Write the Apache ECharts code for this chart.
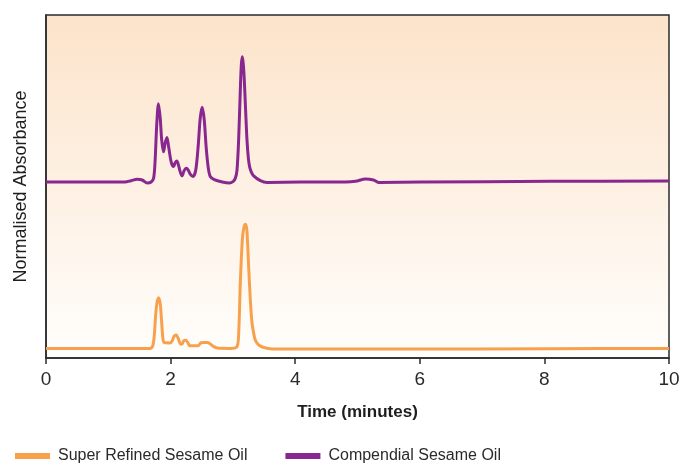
<!DOCTYPE html>
<html>
<head>
<meta charset="utf-8">
<script src="https://cdn.jsdelivr.net/npm/echarts@6/dist/echarts.min.js"></script>
<style>
  html, body { margin: 0; padding: 0; background: #ffffff; }
  #chart { width: 681px; height: 464px; }
</style>
</head>
<body>
<div id="chart"></div>
<script>
// Axis ticks (minutes)
const timeTicks = [0, 2, 4, 6, 8, 10];

const seriesNames = ['Super Refined Sesame Oil', 'Compendial Sesame Oil'];

// Super Refined Sesame Oil trace: retention time (min) and normalised absorbance
const refinedTime = [0, 1.672, 1.712, 1.736, 1.760, 1.780, 1.805, 1.833, 1.854, 1.876, 1.897,
  1.994, 2.026, 2.058, 2.090, 2.122, 2.154, 2.182, 2.211, 2.243, 2.275, 2.307, 2.363, 2.444,
  2.484, 2.524, 2.588, 2.637, 2.685, 2.749, 2.958, 3.066, 3.095, 3.119, 3.151, 3.175, 3.199,
  3.224, 3.253, 3.280, 3.307, 3.336, 3.360, 3.408, 3.473, 3.569, 3.682, 5.691, 8.103, 10];
const refinedAbs = [2.8, 2.8, 3.5, 6.1, 12.5, 16.0, 17.6, 15.9, 11.1, 5.8, 4.5,
  4.4, 5.0, 6.4, 6.7, 5.7, 4.2, 4.0, 5.0, 5.2, 4.5, 3.6, 3.6, 3.6,
  4.4, 4.5, 4.5, 4.1, 3.4, 2.9, 2.8, 3.3, 8.2, 21.9, 34.4, 37.9, 39.0,
  37.3, 26.6, 16.9, 10.2, 7.0, 5.2, 3.9, 3.2, 2.8, 2.6, 2.6, 2.7, 2.8];

// Compendial Sesame Oil trace (offset upward)
const compendialTime = [0, 0.868, 1.27, 1.367, 1.463, 1.543, 1.624, 1.688, 1.728, 1.752, 1.777,
  1.805, 1.833, 1.857, 1.886, 1.913, 1.941, 1.969, 2.010, 2.047, 2.074, 2.101, 2.130, 2.146,
  2.182, 2.219, 2.251, 2.283, 2.315, 2.359, 2.404, 2.444, 2.476, 2.508, 2.540, 2.572, 2.605,
  2.637, 2.701, 2.830, 2.942, 3.006, 3.039, 3.066, 3.092, 3.119, 3.135, 3.151, 3.167, 3.183,
  3.204, 3.226, 3.248, 3.268, 3.296, 3.333, 3.441, 3.548, 4.084, 4.807, 4.968, 5.129, 5.257,
  5.338, 6.013, 8.103, 10];
const compendialAbs = [51.3, 51.3, 51.3, 51.7, 52.1, 51.9, 51.0, 51.3, 52.5, 57.7, 67.9,
  74.1, 70.0, 63.6, 60.1, 62.7, 64.3, 61.5, 57.1, 55.8, 56.9, 57.4, 56.0, 54.8,
  53.1, 54.7, 55.3, 54.8, 53.6, 52.9, 54.8, 62.1, 70.0, 73.1, 69.4, 61.2, 55.4,
  52.9, 52.0, 51.3, 51.0, 51.5, 52.4, 54.8, 63.6, 78.1, 85.4, 87.8, 85.7, 81.0,
  72.3, 63.6, 58.3, 55.8, 54.2, 53.1, 51.7, 51.2, 51.3, 51.3, 51.5, 52.2, 51.9,
  51.2, 51.3, 51.5, 51.6];

const zip = (xs, ys) => xs.map((x, i) => [x, ys[i]]);

const FONT = "'Liberation Sans', Arial, sans-serif";
const ORANGE = '#f8a14d';
const PURPLE = '#87278f';

const chart = echarts.init(document.getElementById('chart'), null, { renderer: 'canvas' });

chart.setOption({
  animation: false,
  textStyle: { fontFamily: FONT },
  grid: {
    left: 46, right: 12, top: 15, bottom: 106,
    containLabel: false,
    outerBoundsMode: 'none',
    show: true,
    borderColor: '#2b2b2b',
    borderWidth: 1.5,
    backgroundColor: new echarts.graphic.LinearGradient(0, 0, 0, 1, [
      { offset: 0, color: '#fce3ca' },
      { offset: 1, color: '#fffefc' }
    ])
  },
  legend: {
    left: 10, top: 443,
    icon: 'rect',
    itemWidth: 35, itemHeight: 6,
    itemGap: 38,
    data: seriesNames,
    textStyle: { fontFamily: FONT, fontSize: 16, color: '#2a2a2a', padding: [0, 0, 0, 3] }
  },
  xAxis: {
    type: 'value',
    min: timeTicks[0], max: timeTicks[timeTicks.length - 1], interval: 2,
    name: 'Time (minutes)',
    nameLocation: 'middle',
    nameGap: 46,
    nameTextStyle: { fontFamily: FONT, fontSize: 17, fontWeight: 'bold', color: '#1e1e1e' },
    axisLine: { show: true, lineStyle: { color: '#2b2b2b', width: 1.5 } },
    axisTick: { show: true, inside: false, length: 6, lineStyle: { color: '#2b2b2b', width: 1.5 } },
    axisLabel: { fontFamily: FONT, fontSize: 19, color: '#2a2a2a', margin: 12 },
    splitLine: { show: false }
  },
  yAxis: {
    type: 'value',
    min: 0, max: 100,
    name: 'Normalised Absorbance',
    nameLocation: 'middle',
    nameRotate: 90,
    nameGap: 16,
    nameTextStyle: { fontFamily: FONT, fontSize: 18, color: '#1e1e1e' },
    axisLine: { show: true, lineStyle: { color: '#2b2b2b', width: 1.5 } },
    axisTick: { show: false },
    axisLabel: { show: false },
    splitLine: { show: false }
  },
  series: [
    {
      name: seriesNames[0],
      type: 'line',
      color: ORANGE,
      data: zip(refinedTime, refinedAbs),
      showSymbol: false,
      smooth: 0.3,
      lineStyle: { color: ORANGE, width: 3 }
    },
    {
      name: seriesNames[1],
      type: 'line',
      color: PURPLE,
      data: zip(compendialTime, compendialAbs),
      showSymbol: false,
      smooth: 0.3,
      lineStyle: { color: PURPLE, width: 3 }
    }
  ]
});
</script>
</body>
</html>
